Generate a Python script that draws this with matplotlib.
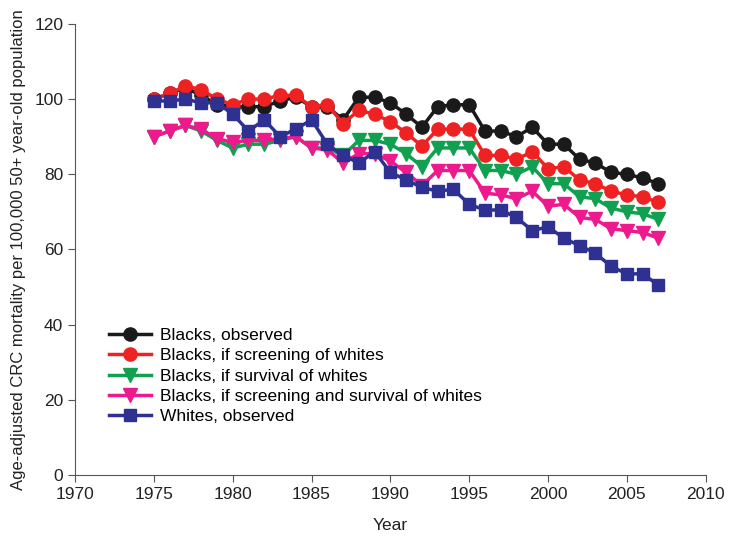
import matplotlib
matplotlib.use("Agg")
import matplotlib.pyplot as plt

plt.rcParams['font.family'] = ['Liberation Sans', 'DejaVu Sans']

years = list(range(1975, 2008))

blacks_obs = [100, 101.5, 103, 101, 98.5, 98, 98, 98, 99.5, 100.5, 98, 98, 94.5,
              100.5, 100.5, 99, 96, 92.5, 98, 98.5, 98.5, 91.5, 91.5, 90, 92.5,
              88, 88, 84, 83, 80.5, 80, 79, 77.5]
blacks_scr = [100, 101.5, 103.5, 102.5, 100, 98.5, 100, 100, 101, 101, 98, 98.5, 93.5,
              97, 96, 94, 91, 87.5, 92, 92, 92, 85, 85, 84, 86,
              81.5, 82, 78.5, 77.5, 75.5, 74.5, 74, 72.5]
blacks_surv = [90, 91.5, 93, 91.5, 89, 87, 88, 88, 89, 90, 87, 87, 85,
               89, 89, 88, 85.5, 82, 87, 87, 87, 81, 81, 80, 82,
               77.5, 77.5, 74, 73.5, 71, 70, 69.5, 68]
blacks_both = [90, 91.5, 93, 92, 89.5, 88.5, 89, 89, 89.5, 90, 87, 86.5, 83,
               85.5, 85.5, 83.5, 80.5, 77, 81, 81, 81, 75, 74.5, 73.5, 75.5,
               71.5, 72, 68.5, 68, 65.5, 65, 64.5, 63]
whites_obs = [99.5, 99.5, 100, 99, 99, 96, 91.5, 94.5, 90, 92, 94.5, 88, 85,
              83, 86, 80.5, 78.5, 76.5, 75.5, 76, 72, 70.5, 70.5, 68.5, 65,
              66, 63, 61, 59, 55.5, 53.5, 53.5, 50.5]

labels = ["Blacks, observed",
          "Blacks, if screening of whites",
          "Blacks, if survival of whites",
          "Blacks, if screening and survival of whites",
          "Whites, observed"]

fig = plt.figure(figsize=(7.29, 5.44), dpi=100)
ax = fig.add_axes([0.103, 0.127, 0.865, 0.829])

ax.plot(years, blacks_obs, color='#1a1a1a', marker='o', ms=9.5, lw=2.5, label=labels[0])
ax.plot(years, blacks_scr, color='#ee2222', marker='o', ms=9.5, lw=2.5, label=labels[1])
ax.plot(years, blacks_surv, color='#10a050', marker='v', ms=10.5, lw=2.5, label=labels[2])
ax.plot(years, blacks_both, color='#ec1a8c', marker='v', ms=10.5, lw=2.5, label=labels[3])
ax.plot(years, whites_obs, color='#2e3192', marker='s', ms=8.5, lw=2.5, label=labels[4])

ax.set_xlim(1970, 2010)
ax.set_ylim(0, 120)
ax.set_xticks(range(1970, 2011, 5))
ax.set_yticks(range(0, 121, 20))
ax.spines['top'].set_visible(False)
ax.spines['right'].set_visible(False)
for s in ['left', 'bottom']:
    ax.spines[s].set_color('#555555')
ax.tick_params(direction='out', length=5, color='#555555', labelsize=12.5, labelcolor='#222222')
ax.set_xlabel("Year", fontsize=12.5, color='#222222', labelpad=12)
ax.set_ylabel("Age-adjusted CRC mortality per 100,000 50+ year-old population",
              fontsize=12, color='#222222', labelpad=6)

ax.legend(loc='lower left', bbox_to_anchor=(0.035, 0.085), frameon=False,
          fontsize=12.5, numpoints=1, handlelength=2.4, handletextpad=0.5,
          labelspacing=0.3, borderpad=0.2)

fig.savefig("out.png", dpi=100)
